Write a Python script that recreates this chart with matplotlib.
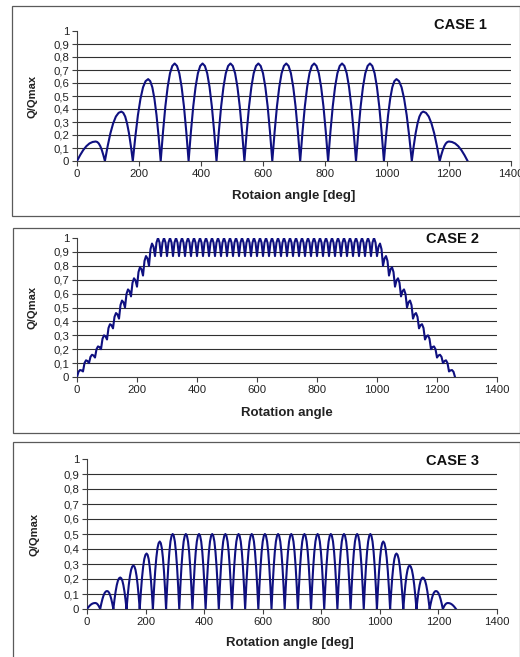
import numpy as np
import matplotlib
matplotlib.use("Agg")
import matplotlib.pyplot as plt
from matplotlib.patches import Rectangle

plt.rcParams['font.family'] = ['Liberation Sans', 'DejaVu Sans']

# ---------------- data ----------------
x_ticks = [0, 200, 400, 600, 800, 1000, 1200, 1400]
y_ticks = [0, 0.1, 0.2, 0.3, 0.4, 0.5, 0.6, 0.7, 0.8, 0.9, 1.0]
y_tick_labels = ['0', '0,1', '0,2', '0,3', '0,4', '0,5', '0,6', '0,7', '0,8', '0,9', '1']

titles = ['CASE 1', 'CASE 2', 'CASE 3']
x_labels = ['Rotaion angle [deg]', 'Rotation angle', 'Rotation angle [deg]']
y_label = 'Q/Qmax'

# Case 1: 14 lobes of 90 deg
case1_lobe_width = 90
case1_peaks = [0.15, 0.38, 0.63, 0.75, 0.75, 0.75, 0.75, 0.75, 0.75, 0.75, 0.75, 0.63, 0.38, 0.15]
case1_peak_pos = [0.67, 0.59, 0.55, 0.5, 0.5, 0.5, 0.5, 0.5, 0.5, 0.5, 0.5, 0.45, 0.41, 0.33]

# Case 3: 28 lobes of 45 deg
case3_lobe_width = 45
case3_peaks = [0.04, 0.12, 0.21, 0.29, 0.37, 0.45,
               0.5, 0.5, 0.5, 0.5, 0.5, 0.5, 0.5, 0.5, 0.5, 0.5, 0.5, 0.5, 0.5, 0.5, 0.5, 0.5,
               0.45, 0.37, 0.29, 0.21, 0.12, 0.04]
case3_peak_pos = [0.62, 0.52, 0.52, 0.52, 0.52, 0.52,
                  0.5, 0.5, 0.5, 0.5, 0.5, 0.5, 0.5, 0.5, 0.5, 0.5, 0.5, 0.5, 0.5, 0.5, 0.5, 0.5,
                  0.48, 0.48, 0.48, 0.48, 0.48, 0.38]

# normalised lobe flank (trough -> peak)
lobe_rise = [0.0, 0.30, 0.56, 0.76, 0.90, 0.975, 1.0]

# Case 2: 63 ripple cycles of 20 deg
case2_period = 20
case2_peaks = ([0.05, 0.12, 0.16, 0.22, 0.30, 0.38, 0.46, 0.55, 0.63, 0.71, 0.79, 0.87, 0.96]
               + [1.0] * 37
               + [0.96, 0.87, 0.79, 0.71, 0.63, 0.55, 0.46, 0.38, 0.30, 0.22, 0.16, 0.12, 0.05])
case2_troughs = ([0.0, 0.04, 0.10, 0.14, 0.20, 0.27, 0.35, 0.42, 0.50, 0.58, 0.65, 0.73, 0.80]
                 + [0.87] * 38
                 + [0.80, 0.73, 0.65, 0.58, 0.50, 0.42, 0.35, 0.27, 0.20, 0.14, 0.10, 0.04, 0.0])
ripple_rise = [0.0, 0.75, 1.0]


def build_lobes(width, peaks, pos):
    rise = np.array(lobe_rise)
    u = np.linspace(0, 1, len(rise))
    xs, ys = [], []
    for i, (p, f) in enumerate(zip(peaks, pos)):
        x0 = i * width
        xp = x0 + f * width
        x1 = x0 + width
        xr = x0 + u * (xp - x0)
        xf = xp + u[1:] * (x1 - xp)
        seg_x = np.concatenate([xr, xf])
        seg_y = np.concatenate([p * rise, p * rise[::-1][1:]])
        if i > 0:
            seg_x, seg_y = seg_x[1:], seg_y[1:]
        xs.append(seg_x)
        ys.append(seg_y)
    return np.concatenate(xs), np.concatenate(ys)


def build_ripple(period, peaks, troughs):
    rise = np.array(ripple_rise)
    u = np.linspace(0, 1, len(rise))
    xs, ys = [], []
    for i, p in enumerate(peaks):
        t0, t1 = troughs[i], troughs[i + 1]
        x0 = i * period
        xr = x0 + u * period / 2
        xf = x0 + period / 2 + u[1:] * period / 2
        yr = t0 + (p - t0) * rise
        yf = t1 + (p - t1) * rise[::-1][1:]
        seg_x = np.concatenate([xr, xf])
        seg_y = np.concatenate([yr, yf])
        if i > 0:
            seg_x, seg_y = seg_x[1:], seg_y[1:]
        xs.append(seg_x)
        ys.append(seg_y)
    return np.concatenate(xs), np.concatenate(ys)


series = [
    build_lobes(case1_lobe_width, case1_peaks, case1_peak_pos),
    build_ripple(case2_period, case2_peaks, case2_troughs),
    build_lobes(case3_lobe_width, case3_peaks, case3_peak_pos),
]

# ---------------- layout ----------------
W, H = 520, 657
fig = plt.figure(figsize=(W / 100, H / 100), dpi=100)

# panel frames (px): left, top, right, bottom
frames = [(12, 6, 519.5, 216), (13, 228, 519.5, 433), (13, 442, 519.5, 670)]
# axes (px): left, top, right, bottom
axes_px = [(77, 31, 511, 161), (77, 238, 497, 377), (87, 459, 497, 609)]
title_px = [(460, 25), (452, 239), (452, 461)]
xlabel_px = [(294, 196), (287, 413), (290, 643)]
ylabel_px = [(33, 96), (33, 307), (35, 534)]

line_color = '#0f1080'
grid_color = '#303030'

for k in range(3):
    fl, ft, fr, fb = frames[k]
    fig.add_artist(Rectangle((fl / W, 1 - fb / H), (fr - fl) / W, (fb - ft) / H,
                             transform=fig.transFigure, fill=False,
                             edgecolor='#5a5a5a', linewidth=0.9))
    l, t, r, b = axes_px[k]
    ax = fig.add_axes([l / W, 1 - b / H, (r - l) / W, (b - t) / H])
    ax.set_xlim(0, 1400)
    ax.set_ylim(0, 1)
    for yv in y_ticks[1:-1]:
        ax.axhline(yv, color=grid_color, linewidth=0.8, zorder=1)
    x, y = series[k]
    ax.plot(x, y, color=line_color, linewidth=1.5, zorder=3, solid_joinstyle='round')
    ax.set_xticks(x_ticks)
    ax.set_xticklabels([str(v) for v in x_ticks])
    ax.set_yticks(y_ticks)
    ax.set_yticklabels(y_tick_labels)
    ax.tick_params(axis='both', direction='out', length=3.5, width=0.8,
                   color='#404040', labelsize=8.2, labelcolor='#222222', pad=2)
    for s in ['top', 'right']:
        ax.spines[s].set_visible(False)
    for s in ['left', 'bottom']:
        ax.spines[s].set_color('#404040')
        ax.spines[s].set_linewidth(0.8)
    ax.patch.set_alpha(0)

    tx, ty = title_px[k]
    fig.text(tx / W, 1 - ty / H, titles[k], fontsize=10.5, fontweight='bold',
             ha='center', va='center', color='#111111')
    xx, xy = xlabel_px[k]
    fig.text(xx / W, 1 - xy / H, x_labels[k], fontsize=9.5, fontweight='bold',
             ha='center', va='center', color='#222222')
    yx, yy = ylabel_px[k]
    fig.text(yx / W, 1 - yy / H, y_label, fontsize=8, fontweight='bold',
             ha='center', va='center', rotation=90, color='#222222')

fig.savefig('out.png', dpi=100)
